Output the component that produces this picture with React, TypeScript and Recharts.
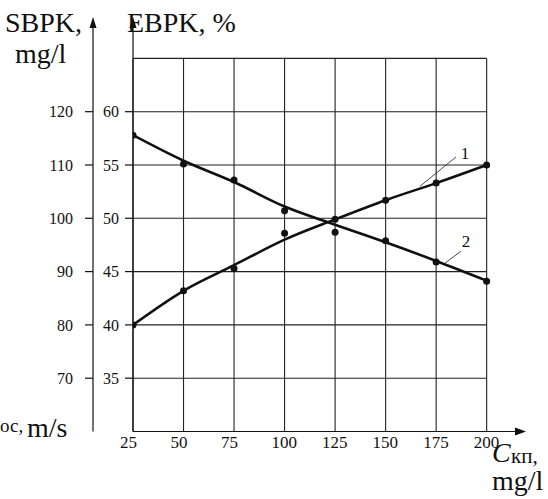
import React from 'react';
import { ComposedChart, Line, XAxis, YAxis, ReferenceLine, ReferenceDot } from 'recharts';

const concentrations = [25, 50, 75, 100, 125, 150, 175, 200];
// fitted curves (1 rising, 2 falling), EBPK %
const curve1 = [40.0, 43.2, 45.6, 48.0, 49.9, 51.7, 53.3, 55.0];
const curve2 = [57.8, 55.4, 53.4, 51.1, 49.4, 47.75, 46.0, 44.15];
// measured points
const points1 = [40.0, 43.2, 45.3, 48.6, 49.9, 51.7, 53.3, 55.0];
const points2 = [57.8, 55.1, 53.6, 50.7, 48.7, 47.9, 45.9, 44.1];

const ebpkTicks = [35, 40, 45, 50, 55, 60];
const sbpkTicks = [70, 80, 90, 100, 110, 120];
const gridRows = [35, 40, 45, 50, 55, 60, 65];

const data = concentrations.map((c, i) => ({
  c,
  curve1: curve1[i],
  curve2: curve2[i],
  p1: points1[i],
  p2: points2[i],
}));

const SERIF_NAME = "'Liberation Serif', Tinos, 'Times New Roman', FreeSerif, serif";
const SERIF = { fontFamily: SERIF_NAME };
const INK = '#111';

// force the serif face even if some page style overrides it
const serifRef = (el: any) => {
  if (el) el.style.setProperty('font-family', SERIF_NAME, 'important');
};

const upArrow = (props: any) => {
  const { x, y, width } = props.viewBox;
  const ax = x + width;
  return <path d={`M${ax},${y - 3} L${ax - 3.5},${y + 8} L${ax + 3.5},${y + 8} Z`} fill={INK} />;
};

const rightArrow = (props: any) => {
  const { x, y, width } = props.viewBox;
  const ax = x + width;
  return <path d={`M${ax + 8},${y} L${ax - 3},${y - 4} L${ax - 3},${y + 4} Z`} fill={INK} />;
};

const YTick = (props: any) => {
  const { x, y, payload } = props;
  return (
    <text ref={serifRef} x={x} y={y} dy="0.355em" textAnchor="end" style={SERIF} fontSize={16} fill={INK}>
      {payload.value}
    </text>
  );
};

const XTick = (props: any) => {
  const { x, y, payload } = props;
  return (
    <text ref={serifRef} x={x - 13} y={y} dy="0.71em" textAnchor="start" style={SERIF} fontSize={17} fill={INK}>
      {payload.value}
    </text>
  );
};

const markLabel = (text: string) => (props: any) => {
  const { x, y, width, height } = props.viewBox;
  return (
    <text ref={serifRef} x={x + width / 2} y={y + height / 2} dy="0.355em" textAnchor="middle" style={SERIF} fontSize={17} fill={INK}>
      {text}
    </text>
  );
};

const dotStyle = { r: 3.5, fill: INK, stroke: INK, strokeWidth: 0 };

const Title = ({ x, y, size, italic, children }: any) => (
  <text ref={serifRef} x={x} y={y} style={{ ...SERIF, fontStyle: italic ? 'italic' : 'normal' }} fontSize={size} fill={INK}>
    {children}
  </text>
);

const App = () => {
  return (
    <div style={{ position: 'absolute', left: 0, top: 0, width: 548, height: 499, background: '#fff' }}>
      <ComposedChart width={548} height={499} data={data} margin={{ top: 20, right: 30, left: 0, bottom: 37.5 }}>
        <XAxis
          dataKey="c"
          type="number"
          domain={[25, 215.5]}
          allowDataOverflow
          ticks={concentrations}
          tickLine={false}
          tickSize={0}
          tickMargin={4.5}
          height={30}
          axisLine={{ stroke: INK, strokeWidth: 1.2 }}
          tick={<XTick />}
          label={{ content: rightArrow }}
        />
        <YAxis
          yAxisId="e"
          type="number"
          domain={[30, 68.6]}
          allowDataOverflow
          ticks={ebpkTicks}
          width={40}
          tickSize={8}
          tickMargin={6}
          axisLine={{ stroke: INK, strokeWidth: 1.2 }}
          tickLine={{ stroke: INK, strokeWidth: 1.2 }}
          tick={<YTick />}
          label={{ content: upArrow }}
        />
        <YAxis
          yAxisId="s"
          type="number"
          domain={[60, 137.2]}
          allowDataOverflow
          ticks={sbpkTicks}
          width={93}
          tickSize={8}
          tickMargin={12}
          axisLine={{ stroke: INK, strokeWidth: 1.2 }}
          tickLine={{ stroke: INK, strokeWidth: 1.2 }}
          tick={<YTick />}
          label={{ content: upArrow }}
        />

        {concentrations.map((c) => (
          <ReferenceLine
            key={`v${c}`}
            yAxisId="e"
            segment={[{ x: c, y: 30 }, { x: c, y: 65 }]}
            stroke="#222"
            strokeWidth={1.1}
          />
        ))}
        {gridRows.map((v) => (
          <ReferenceLine
            key={`h${v}`}
            yAxisId="e"
            segment={[{ x: 25, y: v }, { x: 200, y: v }]}
            stroke="#222"
            strokeWidth={1.1}
          />
        ))}

        <Line yAxisId="e" type="monotone" dataKey="curve1" stroke={INK} strokeWidth={2.6} dot={false} isAnimationActive={false} />
        <Line yAxisId="e" type="monotone" dataKey="curve2" stroke={INK} strokeWidth={2.6} dot={false} isAnimationActive={false} />
        <Line yAxisId="e" dataKey="p1" stroke="none" dot={dotStyle} activeDot={false} isAnimationActive={false} />
        <Line yAxisId="e" dataKey="p2" stroke="none" dot={dotStyle} activeDot={false} isAnimationActive={false} />

        {/* curve markers 1 and 2 with leader lines */}
        <ReferenceLine yAxisId="e" segment={[{ x: 167.0, y: 53.0 }, { x: 184.8, y: 55.75 }]} stroke="#333" strokeWidth={0.9} />
        <ReferenceLine yAxisId="e" segment={[{ x: 179.4, y: 45.8 }, { x: 187.2, y: 46.9 }]} stroke="#333" strokeWidth={0.9} />
        <ReferenceDot yAxisId="e" x={189.3} y={56.15} r={0} fill="none" stroke="none" label={{ content: markLabel('1') }} />
        <ReferenceDot yAxisId="e" x={189.8} y={47.9} r={0} fill="none" stroke="none" label={{ content: markLabel('2') }} />
      </ComposedChart>

      <svg width={548} height={499} style={{ position: 'absolute', left: 0, top: 0, pointerEvents: 'none' }}>
        <Title x={5} y={32} size={28}>SBPK,</Title>
        <Title x={127} y={32} size={28}>EBPK, %</Title>
        <Title x={15} y={63} size={28}>mg/l</Title>
        <Title x={0} y={432} size={19}>ос,</Title>
        <Title x={27} y={437} size={28}>m/s</Title>
        <Title x={492} y={462} size={28} italic>C</Title>
        <Title x={511} y={463} size={21}>кп,</Title>
        <Title x={492} y={490} size={28}>mg/l</Title>
      </svg>
    </div>
  );
};

export default App;
